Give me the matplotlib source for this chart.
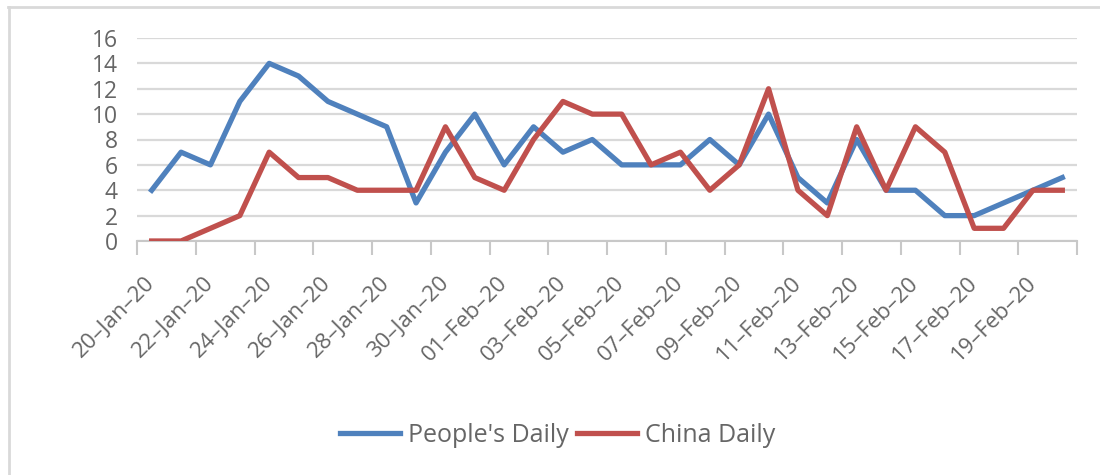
import numpy as np
import matplotlib
matplotlib.use("Agg")
import matplotlib.pyplot as plt
from matplotlib.lines import Line2D

# Daily article counts, 20-Jan-20 .. 20-Feb-20
dates = ["20-Jan-20", "21-Jan-20", "22-Jan-20", "23-Jan-20", "24-Jan-20", "25-Jan-20",
         "26-Jan-20", "27-Jan-20", "28-Jan-20", "29-Jan-20", "30-Jan-20", "31-Jan-20",
         "01-Feb-20", "02-Feb-20", "03-Feb-20", "04-Feb-20", "05-Feb-20", "06-Feb-20",
         "07-Feb-20", "08-Feb-20", "09-Feb-20", "10-Feb-20", "11-Feb-20", "12-Feb-20",
         "13-Feb-20", "14-Feb-20", "15-Feb-20", "16-Feb-20", "17-Feb-20", "18-Feb-20",
         "19-Feb-20", "20-Feb-20"]
peoples_daily = [4, 7, 6, 11, 14, 13, 11, 10, 9, 3, 7, 10, 6, 9, 7, 8,
                 6, 6, 6, 8, 6, 10, 5, 3, 8, 4, 4, 2, 2, 3, 4, 5]
china_daily = [0, 0, 1, 2, 7, 5, 5, 4, 4, 4, 9, 5, 4, 8, 11, 10,
               10, 6, 7, 4, 6, 12, 4, 2, 9, 4, 9, 7, 1, 1, 4, 4]
y_ticks = [0, 2, 4, 6, 8, 10, 12, 14, 16]

BLUE = "#4F81BD"
RED = "#C0504D"
TEXT = "#666666"
GRID = "#d9d9d9"
AXIS = "#c8c8c8"

plt.rcParams["font.family"] = ["Open Sans", "DejaVu Sans"]

fig = plt.figure(figsize=(11, 4.75), dpi=100)
ax = fig.add_axes([137 / 1100, 1 - 241 / 475, (1077 - 137) / 1100, (241 - 38) / 475])

x = np.arange(len(dates))
ax.plot(x, peoples_daily, color=BLUE, linewidth=3.8, label="People's Daily", zorder=3)
ax.plot(x, china_daily, color=RED, linewidth=3.8, label="China Daily", zorder=3)

ax.set_xlim(-0.5, len(dates) - 0.5)
ax.set_ylim(0, 16)
ax.set_yticks(y_ticks)
ax.yaxis.grid(True, color=GRID, linewidth=1.6, zorder=0)
ax.set_axisbelow(True)

# labels on every second day, tick marks between categories
ax.set_xticks(x[::2])
ax.set_xticklabels([d.replace("-", "\u2013") for d in dates[::2]],
                   rotation=45, ha="right", va="center", rotation_mode="anchor")
ax.set_xticks(np.arange(-0.5, len(dates), 2), minor=True)
ax.tick_params(axis="x", which="major", length=0, pad=28, labelsize=16, labelcolor=TEXT)
ax.tick_params(axis="x", which="minor", length=10, width=1.5, color=AXIS)
ax.tick_params(axis="y", length=0, pad=14, labelsize=16.5, labelcolor=TEXT)

for side in ("left", "right", "top"):
    ax.spines[side].set_visible(False)
ax.spines["bottom"].set_color(AXIS)
ax.spines["bottom"].set_linewidth(1.5)

fig.legend(loc="center", bbox_to_anchor=(0.507, 1 - 435 / 475), ncol=2, frameon=False,
           fontsize=18, labelcolor=TEXT, handlelength=2.4, handletextpad=0.3,
           columnspacing=0.35)

# chart frame (cropped at right and bottom)
fig.add_artist(Line2D([8 / 1100, 1.0], [1 - 7 / 475] * 2, color=GRID, linewidth=2,
                      transform=fig.transFigure))
fig.add_artist(Line2D([9 / 1100] * 2, [0.0, 1 - 7 / 475], color=GRID, linewidth=2,
                      transform=fig.transFigure))

fig.savefig("out.png", dpi=100)
plt.close(fig)
